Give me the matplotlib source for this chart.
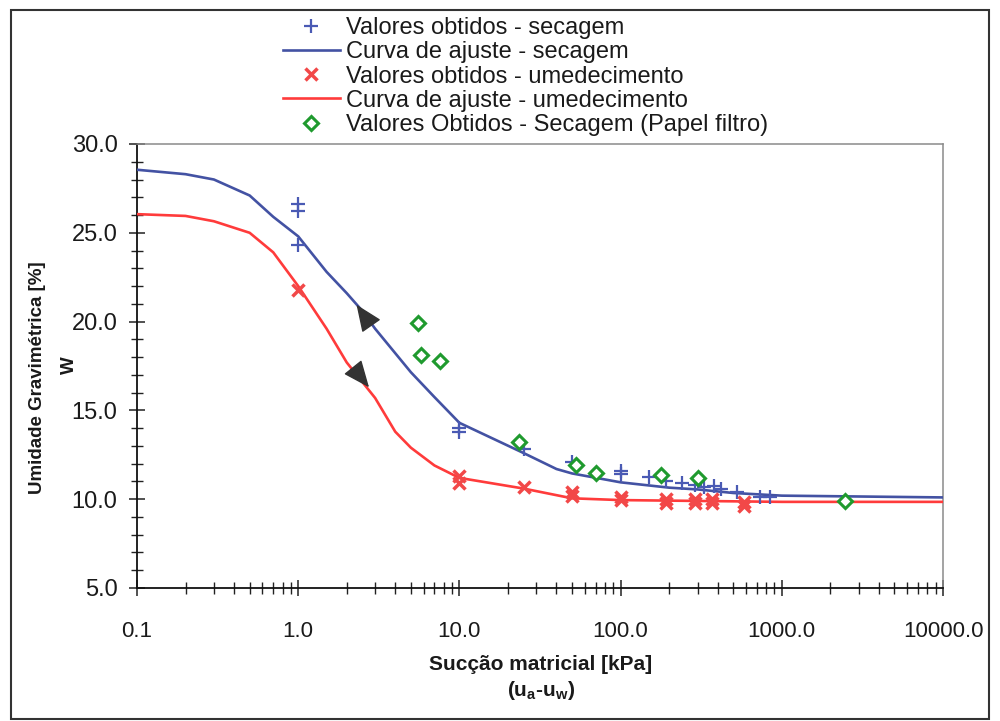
import matplotlib
matplotlib.use('Agg')
import matplotlib.pyplot as plt
from matplotlib.ticker import LogLocator, NullFormatter, MultipleLocator
from matplotlib.patches import Rectangle

# ---------------- data ----------------
# Valores obtidos - secagem
sec_x = [1, 1, 1, 10, 10, 25, 50, 100, 100, 150, 190, 240, 290, 330, 380, 420, 530, 730, 850]
sec_y = [26.6, 26.2, 24.3, 14.0, 13.8, 12.8, 12.1, 11.6, 11.4, 11.25, 11.0, 10.9, 10.8, 10.7, 10.75, 10.6, 10.4, 10.1, 10.1]

# Valores obtidos - umedecimento
um_x = [1, 10, 10, 25, 50, 50, 100, 100, 190, 190, 290, 290, 370, 370, 580, 580]
um_y = [21.8, 11.3, 10.9, 10.7, 10.4, 10.2, 10.15, 9.95, 10.0, 9.8, 10.0, 9.8, 10.0, 9.8, 9.85, 9.6]

# Valores Obtidos - Secagem (Papel filtro)
pf_x = [5.5, 5.8, 7.6, 23.5, 53, 70, 178, 300, 2450]
pf_y = [19.9, 18.1, 17.8, 13.2, 11.9, 11.5, 11.35, 11.2, 9.9]

# Curva de ajuste - secagem
fit_sec_x = [0.1, 0.2, 0.3, 0.5, 0.7, 1.0, 1.5, 2.0, 2.5, 3.0, 5.0, 7.0, 10, 25, 40, 50, 100, 200, 300, 500, 1000, 10000]
fit_sec_y = [28.55, 28.3, 28.0, 27.1, 25.9, 24.8, 22.8, 21.6, 20.6, 19.6, 17.15, 15.75, 14.3, 12.6, 11.7, 11.45, 10.95, 10.65, 10.55, 10.35, 10.2, 10.1]

# Curva de ajuste - umedecimento
fit_um_x = [0.1, 0.2, 0.3, 0.5, 0.7, 1.0, 1.5, 2.0, 2.5, 3.0, 4.0, 5.0, 7.0, 10, 25, 50, 100, 1000, 10000]
fit_um_y = [26.05, 25.95, 25.65, 25.0, 23.9, 22.0, 19.6, 17.7, 16.6, 15.7, 13.8, 12.9, 11.9, 11.2, 10.6, 10.05, 9.95, 9.85, 9.85]

xtick_vals = [0.1, 1, 10, 100, 1000, 10000]
xtick_labels = ['0.1', '1.0', '10.0', '100.0', '1000.0', '10000.0']
ytick_vals = [5, 10, 15, 20, 25, 30]
ytick_labels = ['5.0', '10.0', '15.0', '20.0', '25.0', '30.0']

labels = ['Valores obtidos - secagem', 'Curva de ajuste - secagem',
          'Valores obtidos - umedecimento', 'Curva de ajuste - umedecimento',
          'Valores Obtidos - Secagem (Papel filtro)']

# ---------------- style ----------------
BLUE_L = '#4352a3'
BLUE_M = '#4a5ab4'
RED_L = '#ff3b3b'
RED_M = '#f24848'
GREEN = '#1f9a2e'
SANS = ['Liberation Sans', 'DejaVu Sans']
plt.rcParams['font.family'] = SANS

fig = plt.figure(figsize=(10, 7.21), dpi=100)
ax = fig.add_axes([0.137, 1 - 588 / 721, 0.806, (588 - 144) / 721])

h2, = ax.plot(fit_sec_x, fit_sec_y, color=BLUE_L, lw=1.9, label=labels[1], zorder=3)
h4, = ax.plot(fit_um_x, fit_um_y, color=RED_L, lw=1.9, label=labels[3], zorder=3)
h1, = ax.plot(sec_x, sec_y, ls='none', marker='+', ms=10, mew=1.6, color=BLUE_M, label=labels[0], zorder=4)
h3, = ax.plot(um_x, um_y, ls='none', marker='x', ms=8.5, mew=2.5, color=RED_M, label=labels[2], zorder=4)
h5, = ax.plot(pf_x, pf_y, ls='none', marker='D', ms=7.3, mew=2.2, mfc='white', mec=GREEN, label=labels[4], zorder=5)

# arrows (direction of the hysteresis paths)
arrow_kw = dict(arrowstyle='-|>,head_length=1.3,head_width=0.55', color='#333333', lw=1,
                shrinkA=0, shrinkB=0, mutation_scale=13)
ax.annotate('', xy=(2.3, 20.95), xytext=(8.6, -12.3), textcoords='offset points',
            arrowprops=arrow_kw, zorder=6)
ax.annotate('', xy=(2.75, 16.3), xytext=(-9.4, 11.7), textcoords='offset points',
            arrowprops=arrow_kw, zorder=6)

ax.set_xscale('log')
ax.set_xlim(0.1, 10000)
ax.set_ylim(5, 30)
ax.set_xticks(xtick_vals)
ax.set_xticklabels(xtick_labels, fontsize=16, color='#1a1a1a')
ax.xaxis.set_minor_locator(LogLocator(base=10, subs=range(2, 10), numticks=20))
ax.xaxis.set_minor_formatter(NullFormatter())
ax.set_yticks(ytick_vals)
ax.set_yticklabels(ytick_labels, fontsize=17, color='#1a1a1a')
ax.yaxis.set_minor_locator(MultipleLocator(1))

ax.tick_params(axis='both', which='major', direction='inout', length=12, width=1.1, color='#222222')
ax.tick_params(axis='both', which='minor', direction='inout', length=9, width=1.0, color='#222222')
ax.tick_params(axis='x', which='major', pad=18)
ax.tick_params(axis='y', which='major', pad=8)

for s in ['left', 'bottom']:
    ax.spines[s].set_color('#111111')
    ax.spines[s].set_linewidth(1.3)
for s in ['top', 'right']:
    ax.spines[s].set_color('#8a8a8a')
    ax.spines[s].set_linewidth(1.1)

# axis titles
fig.text(0.038, 1 - 378 / 721, 'Umidade Gravimétrica [%]', rotation=90, ha='center', va='center',
         fontsize=13.5, fontweight='bold', color='#1a1a1a')
fig.text(0.069, 1 - 365 / 721, 'W', rotation=90, ha='center', va='center',
         fontsize=13.5, fontweight='bold', color='#1a1a1a')
fig.text(0.541, 1 - 664 / 721, 'Sucção matricial [kPa]', ha='center', va='center',
         fontsize=15, fontweight='bold', color='#1a1a1a')
fig.text(0.541, 1 - 691 / 721, r'(u$_\mathregular{a}$-u$_\mathregular{w}$)', ha='center', va='center',
         fontsize=15, fontweight='bold', color='#1a1a1a')

# legend
leg = fig.legend(handles=[h1, h2, h3, h4, h5], labels=labels, loc='upper left',
                 bbox_to_anchor=(0.283, 0.976), frameon=False, borderpad=0, borderaxespad=0,
                 handlelength=2.4, handletextpad=0.25, labelspacing=0.09,
                 prop={'family': SANS, 'size': 17})
for t in leg.get_texts():
    t.set_color('#1a1a1a')

# outer frame
fig.add_artist(Rectangle((11 / 1000, 1 - 719 / 721), (989 - 11) / 1000, (719 - 10) / 721,
                         transform=fig.transFigure, fill=False, ec='#333333', lw=1.5))

fig.savefig('out.png', dpi=100, facecolor='white')
